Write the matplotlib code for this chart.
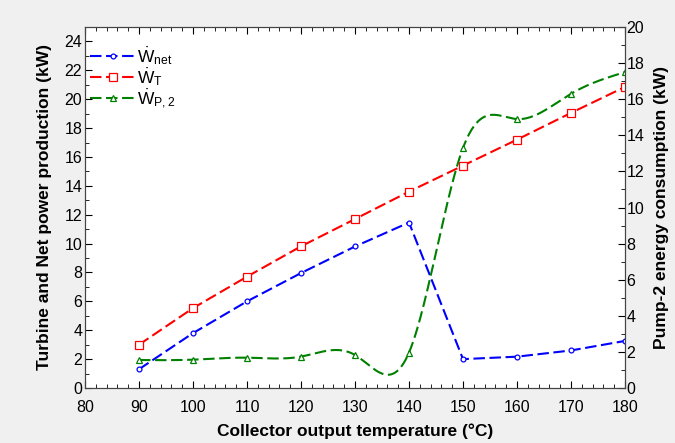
import numpy as np
import matplotlib
matplotlib.use("Agg")
import matplotlib.pyplot as plt
from matplotlib.ticker import MultipleLocator

plt.rcParams['font.family'] = ['Liberation Sans', 'DejaVu Sans']
plt.rcParams['mathtext.fontset'] = 'custom'
plt.rcParams['mathtext.rm'] = 'Liberation Sans'
plt.rcParams['mathtext.it'] = 'Liberation Sans'

temperature = [90, 100, 110, 120, 130, 140, 150, 160, 170, 180]
w_net = [1.3, 3.8, 6.0, 7.96, 9.8, 11.46, 2.0, 2.17, 2.6, 3.26]
w_turbine = [3.0, 5.53, 7.71, 9.81, 11.7, 13.6, 15.4, 17.2, 19.05, 20.85]
w_pump2 = [1.55, 1.57, 1.68, 1.74, 1.83, 1.96, 13.3, 14.9, 16.3, 17.5]


def natural_spline(x, y, xs):
    x = np.asarray(x, float); y = np.asarray(y, float)
    n = len(x)
    h = np.diff(x)
    A = np.zeros((n, n)); b = np.zeros(n)
    A[0, 0] = 1; A[-1, -1] = 1
    for i in range(1, n - 1):
        A[i, i - 1] = h[i - 1]
        A[i, i] = 2 * (h[i - 1] + h[i])
        A[i, i + 1] = h[i]
        b[i] = 3 * ((y[i + 1] - y[i]) / h[i] - (y[i] - y[i - 1]) / h[i - 1])
    c = np.linalg.solve(A, b)
    out = np.empty_like(xs)
    for k, xv in enumerate(xs):
        i = min(max(np.searchsorted(x, xv) - 1, 0), n - 2)
        dx = xv - x[i]
        bi = (y[i + 1] - y[i]) / h[i] - h[i] * (2 * c[i] + c[i + 1]) / 3
        di = (c[i + 1] - c[i]) / (3 * h[i])
        out[k] = y[i] + bi * dx + c[i] * dx ** 2 + di * dx ** 3
    return out


fig = plt.figure(figsize=(6.75, 4.43), dpi=100, facecolor='#f0f0f0')
ax = fig.add_axes([85 / 675, 55 / 443, 540 / 675, 361 / 443])
ax2 = ax.twinx()

dash = (0, (5.5, 2.2))
lw = 1.5
ax.plot(temperature, w_net, color='#0000ff', ls=dash, lw=lw, marker='o', ms=3.5,
        mfc='white', mec='#0000ff', mew=0.9, label=r'$\dot{\mathrm{W}}_{\mathrm{net}}$')
ax.plot(temperature, w_turbine, color='#ff0000', ls=dash, lw=lw, marker='s', ms=5.5,
        mfc='white', mec='#ff0000', mew=0.9, label=r'$\dot{\mathrm{W}}_{\mathrm{T}}$')

xs = np.linspace(90, 180, 400)
ax2.plot(xs, natural_spline(temperature, w_pump2, xs), color='#008000', ls=dash, lw=lw)
ax2.plot(temperature, w_pump2, ls='none', marker='^', ms=4.5, mfc='white', mec='#008000', mew=0.9)
ax.plot([], [], color='#008000', ls=dash, lw=lw, marker='^', ms=4.5, mfc='white',
        mec='#008000', mew=0.9, label=r'$\dot{\mathrm{W}}_{\mathrm{P,2}}$')

ax.set_xlim(80, 180)
ax.set_ylim(0, 25)
ax2.set_ylim(0, 20)
ax.xaxis.set_major_locator(MultipleLocator(10))
ax.xaxis.set_minor_locator(MultipleLocator(2))
ax.yaxis.set_major_locator(MultipleLocator(2))
ax.yaxis.set_minor_locator(MultipleLocator(1))
ax2.yaxis.set_major_locator(MultipleLocator(2))
ax2.yaxis.set_minor_locator(MultipleLocator(1))
ax.tick_params(which='both', direction='in', top=True, labelsize=11.5)
ax.tick_params(axis='x', pad=9)
ax.tick_params(axis='y', pad=2)
ax.tick_params(which='major', length=5)
ax.tick_params(which='minor', length=3)
ax2.tick_params(which='both', direction='in', labelsize=11.5, pad=1)
ax2.tick_params(which='major', length=5)
ax2.tick_params(which='minor', length=3)
for a in (ax, ax2):
    for s in a.spines.values():
        s.set_color('#444444')

ax.set_xlabel('Collector output temperature (°C)', fontsize=12.5, fontweight='bold', labelpad=6)
ax.set_ylabel('Turbine and Net power production (kW)', fontsize=12.5, fontweight='bold', labelpad=9)
ax2.set_ylabel('Pump-2 energy consumption (kW)', fontsize=12.5, fontweight='bold', labelpad=7)

ax.legend(loc='upper left', bbox_to_anchor=(-0.003, 0.97), frameon=False, fontsize=12.5,
          handlelength=2.6, handletextpad=0.1, labelspacing=-0.05, borderaxespad=0)

fig.savefig('out.png', dpi=100, facecolor=fig.get_facecolor())
